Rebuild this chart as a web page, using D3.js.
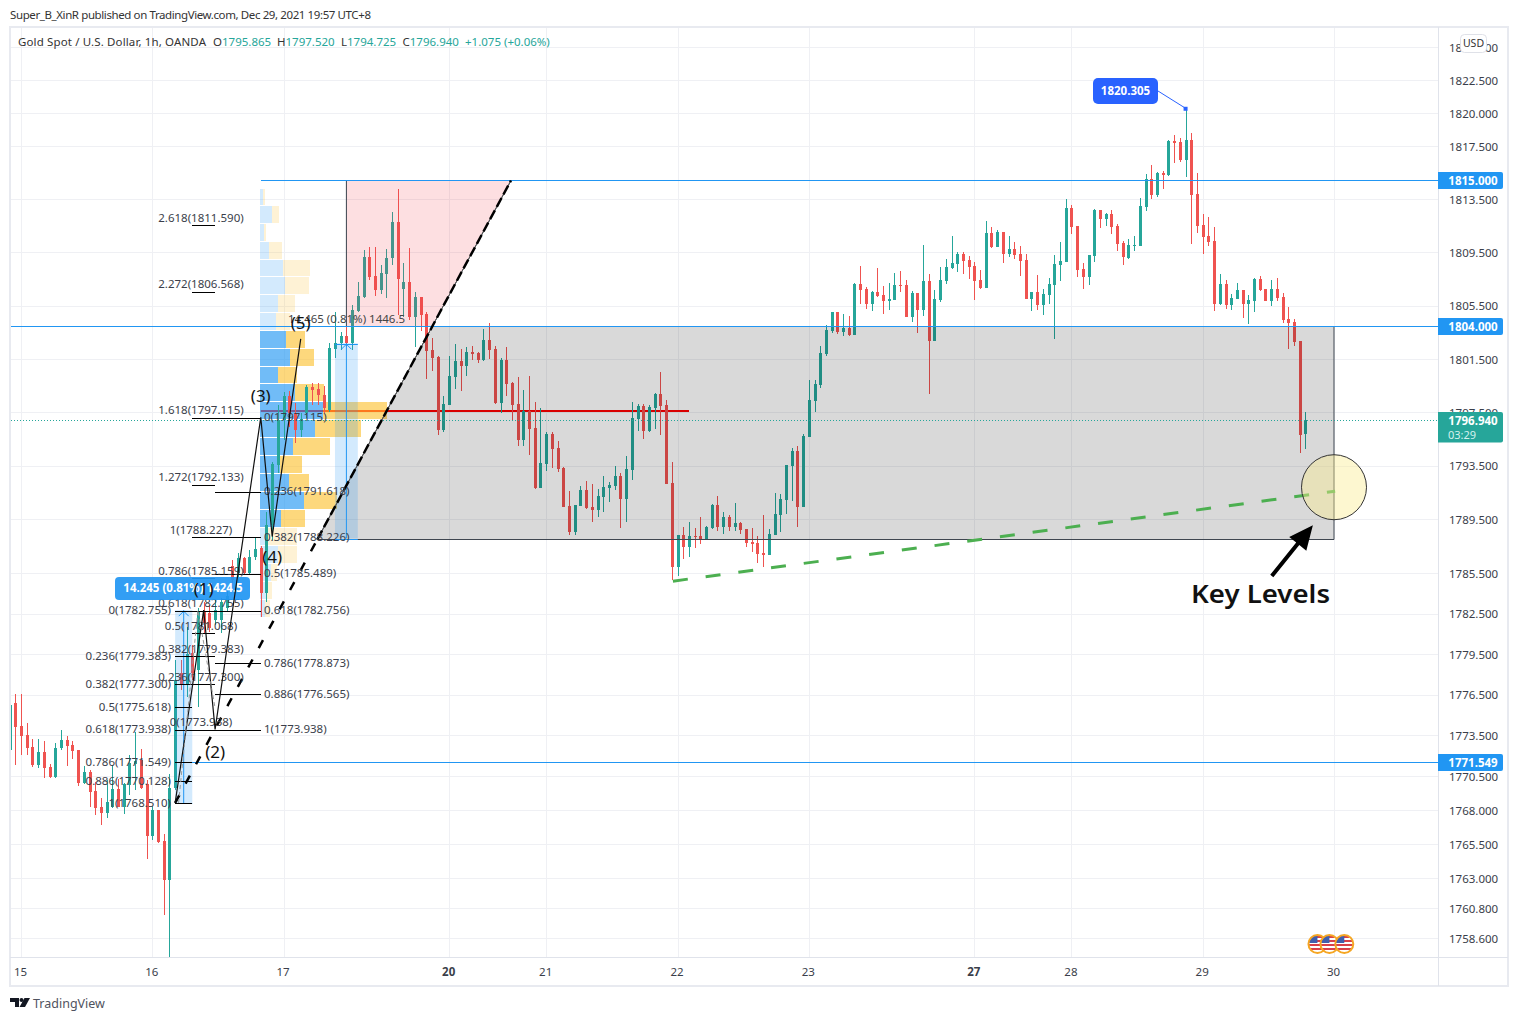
<!DOCTYPE html>
<html><head><meta charset="utf-8">
<script src="https://cdn.jsdelivr.net/npm/d3@7/dist/d3.min.js"></script>
<style>html,body{margin:0;padding:0;background:#fff}svg{display:block}text{font-family:"Noto Sans",sans-serif}</style>
</head><body><div id="chart"></div>
<script>
// ---------- data ----------
const firstBar = -2;
const opens = [
1772.42,1775.88,1774.19,1773.52,1772.64,1771.31,1772.27,1771.16,1770.42,1772.57,
1773.15,1772.78,1772.42,1769.98,1770.80,1769.39,1768.22,1767.78,1768.22,1769.54,
1768.22,1769.84,1771.38,1771.68,1769.91,1766.09,1768.0,1765.73,1762.87,1769.62,
1778.1,1777.28,1779.58,1778.32,1782.61,1782.54,1782.02,1782.02,1782.91,1786.03,
1785.51,1786.62,1785.51,1786.7,1787.37,1784.02,1789.07,1793.55,1796.91,1798.7,
1797.43,1796.16,1797.43,1799.37,1799.22,1798.77,1797.65,1802.22,1802.67,1803.2,
1802.67,1805.07,1806.13,1809.13,1807.71,1806.65,1807.86,1809.06,1811.77,1806.73,
1807.26,1804.63,1806.13,1804.85,1802.15,1801.63,1796.16,1798.03,1800.13,1801.33,
1800.95,1802.0,1801.93,1801.4,1802.9,1802.22,1798.18,1801.4,1799.67,1798.1,
1795.41,1797.58,1796.31,1791.83,1793.62,1795.86,1794.82,1793.32,1790.48,1788.55,
1790.48,1791.68,1790.41,1790.19,1791.15,1791.83,1791.98,1792.73,1791.0,1793.17,
1796.98,1797.95,1796.08,1797.8,1798.85,1798.03,1792.2,1785.95,1788.33,1787.44,
1788.25,1788.25,1788.03,1788.85,1790.56,1788.92,1789.66,1788.92,1789.22,1788.77,
1787.81,1787.74,1786.99,1786.84,1788.33,1789.81,1790.93,1793.47,1794.6,1790.41,
1795.63,1798.33,1799.52,1801.85,1803.58,1805.0,1803.5,1803.8,1803.28,1807.11,
1806.73,1805.6,1806.5,1806.28,1805.83,1805.9,1807.03,1807.03,1804.63,1806.43,
1805.15,1807.33,1802.83,1805.9,1807.33,1808.31,1808.61,1809.36,1808.91,1808.46,
1807.41,1806.8,1810.94,1809.89,1811.02,1809.36,1809.74,1809.36,1808.91,1805.98,
1806.5,1805.52,1806.28,1807.03,1808.53,1808.76,1812.83,1811.47,1808.23,1807.63,
1809.21,1812.68,1812.0,1812.38,1811.47,1810.19,1809.06,1809.96,1809.96,1812.9,
1815.02,1813.81,1815.47,1815.32,1817.88,1817.8,1816.45,1817.95,1813.88,1811.55,
1810.72,1810.34,1805.6,1807.11,1805.52,1805.98,1806.65,1805.6,1805.83,1807.48,
1806.73,1805.83,1806.73,1806.13,1804.48,1804.25,1802.83,1795.865];
const highs = [
1775.88,1776.54,1776.54,1774.41,1773.23,1773.23,1773.08,1771.38,1772.93,1773.89,
1773.45,1773.08,1772.42,1771.24,1770.94,1770.05,1768.88,1770.20,1771.31,1770.27,
1769.98,1772.05,1773.74,1772.49,1770.20,1768.29,1768.0,1766.24,1770.64,1779.06,
1779.06,1781.5,1780.17,1782.91,1783.35,1783.13,1783.5,1783.65,1784.24,1786.47,
1787.0,1786.7,1787.22,1788.1,1787.51,1790.04,1793.77,1798.03,1799.0,1799.07,
1798.18,1797.43,1799.52,1799.67,1799.67,1799.45,1802.67,1805.0,1803.5,1803.95,
1805.52,1807.26,1809.66,1809.89,1809.89,1808.53,1809.74,1812.53,1814.26,1808.68,
1809.81,1806.5,1806.13,1805.0,1803.05,1801.7,1798.7,1801.7,1802.6,1802.22,
1802.37,1802.45,1802.0,1803.72,1804.18,1802.45,1801.55,1802.37,1799.75,1800.13,
1799.15,1800.2,1798.25,1797.8,1796.01,1796.01,1795.34,1793.4,1791.6,1790.56,
1791.98,1792.35,1792.13,1791.75,1792.73,1792.28,1793.47,1792.95,1794.22,1798.25,
1798.1,1798.1,1798.03,1798.92,1800.5,1798.4,1793.77,1788.33,1788.92,1789.29,
1788.85,1789.66,1788.99,1790.63,1791.23,1790.04,1789.81,1790.71,1789.29,1788.77,
1788.85,1788.25,1789.81,1788.77,1791.45,1791.38,1793.55,1794.82,1794.97,1795.86,
1799.9,1799.9,1802.45,1804.03,1805.0,1805.0,1804.85,1804.7,1807.18,1808.46,
1806.88,1806.58,1808.31,1806.95,1807.18,1807.93,1808.08,1807.41,1806.58,1806.43,
1810.04,1807.86,1806.65,1808.38,1808.98,1810.72,1809.51,1809.51,1809.21,1808.76,
1808.16,1811.85,1811.4,1811.17,1811.02,1810.72,1810.27,1809.96,1809.36,1806.5,
1807.78,1806.73,1807.56,1809.28,1810.27,1813.5,1813.05,1811.47,1808.68,1809.28,
1812.75,1812.68,1812.45,1812.68,1811.62,1810.34,1810.49,1810.72,1813.58,1815.4,
1816.08,1815.55,1815.62,1817.95,1818.33,1818.1,1820.305,1818.48,1815.47,1812.38,
1812.15,1811.4,1807.86,1807.41,1806.35,1807.18,1806.65,1806.28,1807.56,1807.71,
1806.73,1807.41,1807.56,1806.43,1805.37,1804.48,1802.83,1797.52];
const lows = [
1772.2,1771.31,1772.05,1772.05,1771.16,1771.09,1770.35,1770.35,1770.35,1772.42,
1771.24,1771.75,1769.76,1769.91,1768.22,1767.63,1766.9,1767.41,1768.15,1768.22,
1767.71,1769.10,1769.47,1769.54,1764.41,1765.8,1765.58,1760.3,1757.2,1769.47,
1776.84,1776.32,1777.58,1775.58,1781.06,1781.13,1781.65,1781.06,1782.61,1784.24,
1784.62,1785.36,1785.43,1786.47,1782.24,1783.35,1787.96,1792.95,1795.41,1796.38,
1795.19,1795.63,1797.06,1798.03,1798.03,1797.43,1797.5,1801.55,1802.15,1802.37,
1802.15,1805.0,1806.05,1807.41,1806.2,1806.35,1806.05,1808.53,1804.78,1804.63,
1804.4,1802.37,1803.58,1799.97,1800.58,1795.78,1796.01,1798.03,1799.22,1799.07,
1800.2,1801.4,1801.18,1801.33,1801.48,1798.1,1797.43,1798.7,1796.83,1794.97,
1794.97,1794.3,1791.75,1791.83,1793.1,1793.32,1793.02,1790.41,1788.33,1788.33,
1790.48,1790.26,1789.29,1789.66,1790.04,1790.78,1791.68,1788.85,1789.29,1792.43,
1796.08,1795.49,1796.01,1796.23,1795.78,1792.13,1784.99,1785.28,1786.55,1786.7,
1787.37,1787.66,1787.96,1788.77,1788.63,1788.4,1788.63,1788.63,1788.4,1787.44,
1787.07,1786.25,1785.95,1786.84,1788.33,1788.55,1789.88,1790.85,1788.92,1790.41,
1795.63,1797.5,1799.3,1801.7,1803.43,1803.35,1803.2,1803.2,1803.28,1805.6,
1805.22,1805.07,1806.13,1804.85,1805.15,1805.9,1806.5,1804.63,1804.25,1803.43,
1804.7,1798.85,1802.83,1805.75,1807.11,1808.23,1808.01,1807.86,1807.48,1805.9,
1806.73,1806.8,1809.81,1809.89,1808.68,1809.13,1808.98,1807.71,1805.98,1805.07,
1805.15,1804.78,1805.6,1802.98,1807.33,1808.76,1810.87,1807.63,1806.73,1807.03,
1808.76,1811.32,1811.47,1810.87,1809.59,1808.53,1808.98,1809.59,1809.96,1812.6,
1813.5,1813.66,1814.26,1815.25,1816.22,1816.3,1815.17,1810.12,1810.94,1809.36,
1809.96,1805.07,1805.52,1805.22,1805.15,1805.98,1804.55,1804.1,1805.0,1806.58,
1805.83,1805.45,1805.83,1804.18,1802.22,1802.45,1794.45,1794.725];
const closes = [
1775.73,1774.11,1773.45,1772.57,1771.31,1772.27,1771.09,1770.42,1772.57,1773.15,
1772.71,1772.35,1769.98,1770.80,1769.32,1768.15,1767.78,1768.58,1769.54,1768.22,
1769.91,1771.46,1771.6,1769.62,1766.09,1768.0,1765.65,1762.87,1769.62,1777.58,
1777.21,1779.5,1778.1,1782.61,1781.8,1781.43,1782.76,1783.35,1783.8,1784.99,
1786.62,1785.51,1786.7,1787.29,1784.02,1789.07,1793.62,1796.91,1798.7,1797.43,
1796.16,1796.98,1799.37,1799.15,1798.77,1797.8,1802.3,1802.67,1803.2,1802.67,
1805.15,1806.2,1809.13,1807.63,1806.65,1807.93,1809.06,1811.77,1807.48,1807.26,
1804.63,1806.13,1804.78,1802.08,1801.55,1796.16,1798.1,1800.2,1801.33,1800.95,
1802.0,1801.85,1801.4,1802.9,1802.15,1798.18,1801.4,1799.6,1798.03,1795.41,
1797.58,1796.23,1791.83,1793.7,1795.86,1794.74,1793.25,1790.41,1788.55,1790.56,
1791.68,1790.34,1790.19,1791.23,1791.9,1792.05,1792.73,1791.0,1793.25,1797.06,
1797.95,1796.08,1797.88,1798.85,1797.95,1792.13,1785.95,1788.33,1787.44,1788.25,
1788.18,1788.03,1788.92,1790.56,1788.92,1789.66,1788.92,1789.22,1788.7,1787.74,
1787.66,1786.92,1786.84,1788.4,1789.88,1791.0,1793.55,1794.6,1790.41,1795.71,
1798.4,1799.6,1801.93,1803.65,1805.0,1803.5,1803.8,1803.28,1807.11,1806.65,
1805.6,1806.5,1806.2,1805.83,1805.98,1807.03,1806.95,1804.63,1806.43,1805.15,
1807.33,1802.83,1805.98,1807.41,1808.38,1808.68,1809.36,1808.83,1808.38,1807.33,
1806.8,1810.94,1809.89,1811.02,1809.36,1809.74,1809.28,1808.83,1805.98,1806.5,
1805.52,1806.35,1807.11,1808.61,1808.83,1812.83,1811.4,1808.16,1807.63,1809.28,
1812.68,1812.0,1812.38,1811.4,1810.12,1809.13,1810.04,1810.04,1812.98,1815.02,
1813.81,1815.47,1815.32,1817.88,1817.73,1816.45,1817.95,1813.81,1811.47,1810.64,
1810.27,1805.6,1807.11,1805.52,1806.05,1806.65,1805.6,1805.9,1807.48,1806.65,
1805.83,1806.73,1806.05,1804.4,1804.18,1802.75,1795.78,1796.94];

const priceTicks = [1825,1822.5,1820,1817.5,1813.5,1809.5,1805.5,1801.5,1797.5,1793.5,1789.5,1785.5,1782.5,1779.5,1776.5,1773.5,1770.5,1768,1765.5,1763,1760.8,1758.6];
const dayBars = [0,23,46,75,92,115,138,167,184,207,230];
const dayLabels = ["15","16","17","20","21","22","23","27","28","29","30"];
const boldDays = ["20","27"];

// volume profile rows (edges in price, volumes in relative units)
const profileEdges = [1814.26,1812.98,1811.62,1810.27,1808.91,1807.63,1806.28,1804.93,1803.58,1802.23,1800.88,1799.60,1798.25,1796.91,1795.56,1794.22,1792.87,1791.53,1790.19,1788.85,1787.51,1786.18,1784.84,1783.50,1782.17];
const profileUp   = [3,12,4,9,23,25,18,16,26,30,18,35,63,55,33,20,29,44,21,8,18,11,7,5];
const profileDown = [2,7,2,13,27,24,17,14,19,24,19,29,64,46,37,22,20,33,24,29,19,6,5,5];
const valueAreaFrom = 8, valueAreaTo = 18;

const fibA = [[2.618,1811.590],[2.272,1806.568],[1.618,1797.115],[1.272,1792.133],[1,1788.227],[0.786,1785.159],[0.618,1782.755],[0.5,1781.068],[0.382,1779.383],[0.236,1777.300],[0,1773.938]];
const fibB = [[0,1797.115],[0.236,1791.618],[0.382,1788.226],[0.5,1785.489],[0.618,1782.756],[0.786,1778.873],[0.886,1776.565],[1,1773.938]];
const fibC = [[0,1782.755],[0.236,1779.383],[0.382,1777.300],[0.5,1775.618],[0.618,1773.938],[0.786,1771.549],[0.886,1770.128],[1,1768.510]];
const wave = [[27,1768.51],[32,1782.755],[34,1773.938],[42,1797.115],[44,1788.226],[49,1803.0]];
const waveLabels = ["","(1)","(2)","(3)","(4)","(5)"];
const waveLabelPrice = [0,1784.35,1772.3,1798.75,1786.7,1804.2];
const keyLow = 1788.09, keyHigh = 1804, resistance = 1815, support = 1771.549, last = 1796.94, swingHigh = 1820.305;
const trend = [[27,1768.51],[85.83,1815]];
const greenLine = [[114.2,1784.91],[230.2,1791.6]];
const circlePoint = [230,1791.9];
const arrowLine = [[219.1,1785.3],[226.3,1789.07]];

// ---------- scales ----------
const W = 1518, H = 1021;
const x = d3.scaleLinear().domain([0,230]).range([21,1334]);
const y = d3.scaleLog().domain([1758.6,1820]).range([938,113.3]);
const yLine = v => Math.ceil(y(v))+.5;
const plot = {l:11,r:1438,t:28,b:957};
const TEAL="#26a69a", RED="#ef5350", BLUE="#2196f3", TXT="#3a3e4a";

const svg = d3.select("#chart").append("svg").attr("width",W).attr("height",H);
svg.append("defs").append("clipPath").attr("id","plotClip").append("rect")
  .attr("x",plot.l).attr("y",plot.t).attr("width",plot.r-plot.l).attr("height",plot.b-plot.t);

// header
svg.append("text").attr("x",10).attr("y",19).attr("font-size",11.5).attr("fill","#333").attr("textLength",361)
  .text("Super_B_XinR published on TradingView.com, Dec 29, 2021 19:57 UTC+8");

// grid
const grid = svg.append("g").attr("stroke","#eff0f4").attr("shape-rendering","crispEdges");
grid.selectAll(".h").data(priceTicks).join("line").attr("x1",plot.l).attr("x2",plot.r)
  .attr("y1",d=>Math.round(y(d))+.5).attr("y2",d=>Math.round(y(d))+.5);
grid.selectAll(".v").data(dayBars).join("line").attr("y1",plot.t).attr("y2",plot.b)
  .attr("x1",d=>Math.round(x(d))+.5).attr("x2",d=>Math.round(x(d))+.5);

const p = svg.append("g").attr("clip-path","url(#plotClip)");
// point of control
const pocPrice = 1797.6;
p.append("line").attr("x1",x(42)).attr("x2",689).attr("y1",y(pocPrice)).attr("y2",y(pocPrice))
  .attr("stroke","#ff0000").attr("stroke-width",2);

// volume profile
const vol = d3.scaleLinear().domain([0,100]).range([x(42)-.8,x(42)-.8+100]);
const rows = profileUp.map((u,i)=>({i,u,d:profileDown[i],t:profileEdges[i],b:profileEdges[i+1]}));
const inVA = r=>r.i>=valueAreaFrom&&r.i<=valueAreaTo;
const prof = p.append("g").attr("shape-rendering","crispEdges");
prof.selectAll(".u").data(rows).join("rect").attr("x",vol(0)).attr("y",r=>y(r.t)).attr("width",r=>vol(r.u)-vol(0))
  .attr("height",r=>y(r.b)-y(r.t)-1).attr("fill","#2196f3").attr("fill-opacity",r=>inVA(r)?.64:.2);
prof.selectAll(".d").data(rows).join("rect").attr("x",r=>vol(r.u)).attr("y",r=>y(r.t)).attr("width",r=>vol(r.d)-vol(0))
  .attr("height",r=>y(r.b)-y(r.t)-1).attr("fill","#fbc02d").attr("fill-opacity",r=>inVA(r)?.62:.2);

// candles
const candles = opens.map((o,k)=>({i:k+firstBar,o,h:highs[k],l:lows[k],c:closes[k]}));
const cg = p.append("g").attr("shape-rendering","crispEdges");
const col = d=>d.c>=d.o?TEAL:RED;
cg.selectAll(".w").data(candles).join("rect").attr("x",d=>Math.round(x(d.i))).attr("width",1)
  .attr("y",d=>y(d.h)).attr("height",d=>y(d.l)-y(d.h)).attr("fill",col);
cg.selectAll(".b").data(candles).join("rect").attr("x",d=>Math.round(x(d.i))-1).attr("width",3)
  .attr("y",d=>y(Math.max(d.o,d.c))).attr("height",d=>Math.max(1,y(Math.min(d.o,d.c))-y(Math.max(d.o,d.c)))).attr("fill",col);

// slanted trend helper
const tx0=x(trend[0][0]),ty0=y(trend[0][1]),tx1=x(trend[1][0]),ty1=yLine(trend[1][1]);
const trendX = py => tx0+(py-ty0)/(ty1-ty0)*(tx1-tx0);
const yTop=yLine(keyHigh), yBot=yLine(keyLow), yRes=yLine(resistance);

// pink zone + grey zone
const poly = d3.line();
p.append("path").attr("d",poly([[x(57),yRes],[tx1,ty1],[trendX(yTop),yTop],[x(57),yTop]])+"Z")
  .attr("fill","#f23645").attr("fill-opacity",.16).attr("stroke","#39424e").attr("stroke-width",1);
p.append("path").attr("d",poly([[trendX(yTop),yTop],[x(230),yTop],[x(230),yBot],[trendX(yBot),yBot]])+"Z")
  .attr("fill","#000").attr("fill-opacity",.15).attr("stroke","#3f4650").attr("stroke-width",1);

// position boxes
function posBox(a,b,top,bot){
  p.append("rect").attr("x",x(a)).attr("width",x(b)-x(a)).attr("y",y(top)).attr("height",y(bot)-y(top)).attr("fill",BLUE).attr("fill-opacity",.2);
  [top,bot].forEach(v=>p.append("line").attr("x1",x(a)).attr("x2",x(b)).attr("y1",yLine(v)).attr("y2",yLine(v)).attr("stroke",BLUE));
  const m=(a+b)/2;
  p.append("line").attr("x1",x(m)).attr("x2",x(m)).attr("y1",y(top)).attr("y2",y(bot)).attr("stroke",BLUE);
  p.append("path").attr("d",poly([[x(m)-5,y(top)+6],[x(m),y(top)+1],[x(m)+5,y(top)+6]])).attr("fill","none").attr("stroke",BLUE);
}
posBox(27,30,1782.755,1768.51);
posBox(55,59,1802.67,1788.09);

// horizontal levels
const hl = p.append("g").attr("stroke",BLUE).attr("stroke-width",1).attr("shape-rendering","crispEdges");
[[42,resistance],[-4,keyHigh],[30,support]].forEach(([a,v])=>
  hl.append("line").attr("x1",x(a)).attr("x2",plot.r).attr("y1",yLine(v)).attr("y2",yLine(v)));
p.append("line").attr("x1",plot.l).attr("x2",plot.r).attr("y1",yLine(last)).attr("y2",yLine(last))
  .attr("stroke",TEAL).attr("stroke-dasharray","1 2").attr("shape-rendering","crispEdges");

// trend line
const splitY = yBot;
p.append("line").attr("x1",tx0).attr("y1",ty0).attr("x2",trendX(splitY)).attr("y2",splitY)
  .attr("stroke","#000").attr("stroke-width",2.5).attr("stroke-dasharray","9 13");
p.append("line").attr("x1",trendX(splitY)).attr("y1",splitY).attr("x2",tx1).attr("y2",ty1)
  .attr("stroke","#555").attr("stroke-width",1);
p.append("line").attr("x1",trendX(splitY)).attr("y1",splitY).attr("x2",tx1).attr("y2",ty1)
  .attr("stroke","#000").attr("stroke-width",2.5).attr("stroke-dasharray","10 4");

// green support line
p.append("line").attr("x1",x(greenLine[0][0])).attr("y1",y(greenLine[0][1])).attr("x2",x(greenLine[1][0])).attr("y2",y(greenLine[1][1]))
  .attr("stroke","#4caf50").attr("stroke-width",3).attr("stroke-dasharray","15 18");

// circle
p.append("circle").attr("cx",x(circlePoint[0])).attr("cy",y(circlePoint[1])).attr("r",32.5)
  .attr("fill","#fbec8f").attr("fill-opacity",.42).attr("stroke","#333").attr("stroke-width",1);

// arrow
{
  const [a,b]=arrowLine, ax=x(a[0]),ay=y(a[1]),bx=x(b[0]),by=y(b[1]);
  const L=Math.hypot(bx-ax,by-ay),ux=(bx-ax)/L,uy=(by-ay)/L,nx=-uy,ny=ux,hl2=24,hw=11,sw=2;
  const s=[bx-ux*hl2,by-uy*hl2];
  p.append("path").attr("fill","#000").attr("d",poly([[ax+nx*sw,ay+ny*sw],[s[0]+nx*sw,s[1]+ny*sw],[s[0]+nx*hw,s[1]+ny*hw],[bx,by],[s[0]-nx*hw,s[1]-ny*hw],[s[0]-nx*sw,s[1]-ny*sw],[ax-nx*sw,ay-ny*sw]])+"Z");
}
svg.append("text").attr("x",1191).attr("y",603).attr("font-size",26).attr("font-weight",600).attr("fill","#111").attr("textLength",139).attr("lengthAdjust","spacingAndGlyphs").text("Key Levels");

// fib levels
const fmtP=d3.format(".3f");
const fib = svg.append("g");
function fibLines(data,a,b){
  fib.selectAll(null).data(data).join("line").attr("x1",x(a)).attr("x2",x(b))
    .attr("y1",d=>yLine(d[1])).attr("y2",d=>yLine(d[1])).attr("stroke","#000").attr("stroke-width",1).attr("shape-rendering","crispEdges");
}
fibLines(fibC,27,30); fibLines(fibA,30,34); fibLines(fibB,34,42);
const fibText=(d)=>`${d[0]}(${fmtP(d[1])})`;
fib.selectAll(null).data(fibA).join("text").attr("x",201).attr("y",d=>y(d[1])-3).attr("text-anchor","middle").attr("font-size",11.5).attr("fill",TXT).text(fibText);
fib.selectAll(null).data(fibB).join("text").attr("x",264).attr("y",d=>y(d[1])+4).attr("font-size",11.5).attr("fill",TXT).text(fibText);
fib.selectAll(null).data(fibC).join("text").attr("x",171).attr("y",d=>y(d[1])+4).attr("text-anchor","end").attr("font-size",11.5).attr("fill",TXT).text(fibText);

// position labels
svg.append("rect").attr("x",115).attr("y",577).attr("width",135).attr("height",23).attr("rx",4).attr("fill",BLUE).attr("fill-opacity",.92);
svg.append("text").attr("x",183).attr("y",592).attr("text-anchor","middle").attr("font-size",11.5).attr("font-weight",700).attr("fill","#fff").text("14.245 (0.81%) 1424.5");
svg.append("text").attr("x",346.5).attr("y",323).attr("text-anchor","middle").attr("font-size",11.5).attr("fill","#444").text("14.465 (0.81%) 1446.5");

// wave
const wl=d3.line().x(d=>x(d[0])).y(d=>y(d[1]));
svg.append("path").attr("d",wl(wave)).attr("fill","none").attr("stroke","#111").attr("stroke-width",1.2);
svg.append("path").attr("d",wl([[27.6,1768.51],[31,1782.755],[34,1775.5]])).attr("fill","none").attr("stroke","#999").attr("stroke-width",1).attr("stroke-dasharray","4 3");
svg.selectAll(null).data(wave.slice(1)).join("text").attr("x",d=>x(d[0])).attr("y",(d,i)=>y(waveLabelPrice[i+1])+6).attr("text-anchor","middle")
  .attr("font-size",17).attr("fill","#111").text((d,i)=>waveLabels[i+1]);

// swing-high callout
{
  const px=x(204), py=y(swingHigh);
  svg.append("line").attr("x1",1158).attr("y1",91).attr("x2",px).attr("y2",py-1).attr("stroke","#2962ff");
  svg.append("rect").attr("x",px-2).attr("y",py-2.5).attr("width",4).attr("height",4).attr("fill","#2962ff");
  svg.append("rect").attr("x",1093).attr("y",78).attr("width",65).attr("height",26).attr("rx",5).attr("fill","#2962ff");
  svg.append("text").attr("x",1125.5).attr("y",95).attr("text-anchor","middle").attr("font-size",11.5).attr("font-weight",700).attr("fill","#fff").text(fmtP(swingHigh));
}

// price axis
const yAxis = d3.axisRight(y).tickValues(priceTicks).tickFormat(fmtP).tickSize(0).tickPadding(0);
const ya = svg.append("g").attr("transform",`translate(1449,0.5)`).call(yAxis);
ya.select(".domain").remove();
ya.selectAll("text").attr("font-size",11.5).attr("fill","#3a3e4a").attr("font-family",'"Noto Sans",sans-serif');

// time axis
const xAxis = d3.axisBottom(x).tickValues(dayBars).tickFormat((d,i)=>dayLabels[i]).tickSize(0).tickPadding(0);
const xa = svg.append("g").attr("transform",`translate(-1,968)`).call(xAxis);
xa.select(".domain").remove();
xa.selectAll("text").attr("font-size",11.5).attr("fill","#3a3e4a").attr("font-family",'"Noto Sans",sans-serif')
  .attr("font-weight",(d,i)=>boldDays.includes(dayLabels[i])?700:400);

// frame
svg.append("rect").attr("x",10).attr("y",27).attr("width",1498).attr("height",959).attr("fill","none").attr("stroke","#e8eaf0").attr("stroke-width",2);
svg.append("line").attr("x1",1438.5).attr("x2",1438.5).attr("y1",27).attr("y2",986).attr("stroke","#e0e3eb");
svg.append("line").attr("x1",10).attr("x2",1508).attr("y1",957.5).attr("y2",957.5).attr("stroke","#e0e3eb");

// price tags
function tag(v,fill){
  const c=yLine(v);
  svg.append("path").attr("fill",fill).attr("d",`M1438,${c-8.5}H1501a2,2 0 0 1 2,2V${c+6.5}a2,2 0 0 1 -2,2H1438Z`);
  svg.append("text").attr("x",1473).attr("y",c+4.5).attr("text-anchor","middle").attr("font-size",11.5).attr("font-weight",700).attr("fill","#fff").text(fmtP(v));
}
tag(resistance,BLUE); tag(keyHigh,BLUE); tag(support,BLUE);
{
  const c=yLine(last);
  svg.append("path").attr("fill",TEAL).attr("d",`M1438,${c-8.5}H1501a2,2 0 0 1 2,2V${c+20}a2,2 0 0 1 -2,2H1438Z`);
  svg.append("text").attr("x",1473).attr("y",c+4.5).attr("text-anchor","middle").attr("font-size",11.5).attr("font-weight",700).attr("fill","#fff").text(fmtP(last));
  svg.append("text").attr("x",1448).attr("y",c+18).attr("font-size",11).attr("fill","#d4f1ee").text("03:29");
}

// USD button
svg.append("rect").attr("x",1460.5).attr("y",34.5).attr("width",26).attr("height",18).attr("rx",4).attr("fill","#fff").attr("stroke","#dfe1e8");
svg.append("text").attr("x",1473.5).attr("y",47).attr("text-anchor","middle").attr("font-size",10.5).attr("fill","#333").text("USD");

// legend
const legendName = "Gold Spot / U.S. Dollar, 1h, OANDA";
const legendVals = [["O","1795.865",213],["H","1797.520",277],["L","1794.725",341],["C","1796.940",402.5]];
const leg = svg.append("g").attr("font-size",11.5);
leg.append("text").attr("x",18).attr("y",46).attr("fill","#333").attr("textLength",188).text(legendName);
legendVals.forEach(([k,v,px])=>{
  const t=leg.append("text").attr("x",px).attr("y",46).attr("fill","#333").text(k);
  t.append("tspan").attr("fill",TEAL).text(v);
});
leg.append("text").attr("x",465).attr("y",46).attr("fill",TEAL).text("+1.075 (+0.06%)");

// earnings-style flags
const flagBars = [227.1,229.2,231.8];
const flags = svg.append("g");
flagBars.forEach((b,k)=>{
  const cx=x(b), cy=944, id="fl"+k;
  flags.append("clipPath").attr("id",id).append("circle").attr("cx",cx).attr("cy",cy).attr("r",8.5);
  const g=flags.append("g").attr("clip-path",`url(#${id})`);
  g.append("rect").attr("x",cx-9).attr("y",cy-9).attr("width",18).attr("height",18).attr("fill","#fff");
  d3.range(-8,9,4).forEach(o=>g.append("rect").attr("x",cx-9).attr("y",cy+o).attr("width",18).attr("height",2).attr("fill","#d8404a"));
  g.append("rect").attr("x",cx-9).attr("y",cy-9).attr("width",9).attr("height",8).attr("fill","#3f5fae");
  flags.append("circle").attr("cx",cx).attr("cy",cy).attr("r",9).attr("fill","none").attr("stroke","#f5a623").attr("stroke-width",2);
});

// footer logo
const logo = svg.append("g").attr("fill","#131722").attr("transform","translate(10,998)");
logo.append("path").attr("d","M0,0H9V9H5V4H0Z");
logo.append("circle").attr("cx",11.5).attr("cy",2).attr("r",2);
logo.append("path").attr("d","M14.5,0H20L15,9H9.5Z");
svg.append("text").attr("x",33).attr("y",1008).attr("font-size",12.5).attr("fill","#50535e").text("TradingView");
</script></body></html>
